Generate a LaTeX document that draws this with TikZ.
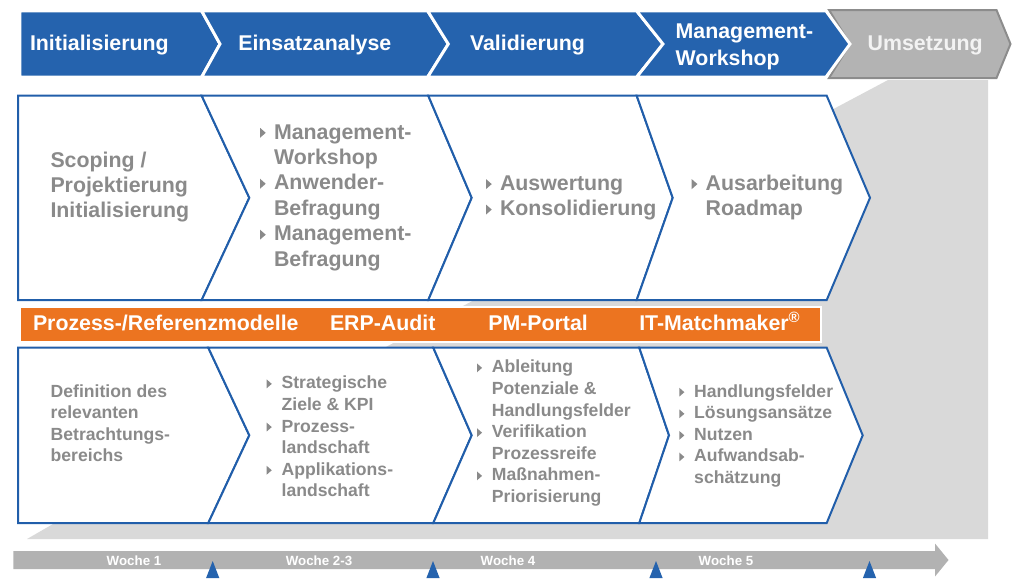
\documentclass[tikz,border=0pt]{standalone}
\usepackage{fontspec}
\setmainfont{Liberation Sans}
\definecolor{hdrblue}{RGB}{37,99,174}
\definecolor{lineblue}{RGB}{33,94,170}
\definecolor{orangebar}{RGB}{236,116,32}
\definecolor{txtgray}{RGB}{138,138,138}
\definecolor{shadowgray}{RGB}{217,217,217}
\definecolor{barGray}{RGB}{178,178,178}
\definecolor{umsGray}{RGB}{179,179,179}
\definecolor{umsBorder}{RGB}{140,140,140}
\definecolor{umsText}{RGB}{243,243,243}
\newcommand{\bulA}{\makebox[10.5pt][l]{\tikz[baseline=0pt]\fill[txtgray] (0pt,0.9pt) -- (0pt,8.4pt) -- (4.3pt,4.65pt) -- cycle;}}
\newcommand{\bulB}{\makebox[11.2pt][l]{\tikz[baseline=0pt]\fill[txtgray] (0pt,0.4pt) -- (0pt,7.0pt) -- (3.8pt,3.7pt) -- cycle;}}
\begin{document}
\begin{tikzpicture}[x=0.75pt,y=-0.75pt,
  every node/.style={inner sep=0pt, outer sep=0pt},
  hdr/.style={font=\fontsize{16}{20}\selectfont\bfseries, text=white, anchor=base west},
  body/.style={font=\fontsize{16}{19.1}\selectfont\bfseries, text=txtgray, anchor=base west},
  small/.style={font=\fontsize{13.2}{16.2}\selectfont\bfseries, text=txtgray, anchor=base west},
  orangetxt/.style={font=\fontsize{16}{19}\selectfont\bfseries, text=white, anchor=base west},
  weektxt/.style={font=\fontsize{10}{12}\selectfont\bfseries, text=white, anchor=base},
  hchev/.style={fill=hdrblue, draw=white, line width=2.2pt, line join=miter},
  bchev/.style={fill=white, draw=lineblue, line width=1.5pt, line join=miter},
  marker/.style={fill=hdrblue},
]
\useasboundingbox (0,0) rectangle (1012,578);

% shadow
\fill[shadowgray] (27,539) -- (53,524) -- (888,80) -- (988,80) -- (988,539) -- cycle;

% header chevrons
\draw[fill=umsGray, draw=umsBorder, line width=1.5pt, line join=miter]
  (829,10) -- (996.5,10) -- (1010.5,44) -- (996.5,78) -- (829,78) -- (850,44) -- cycle;
\draw[hchev] (20,11) -- (201.7,11) -- (220,44) -- (201.7,77) -- (20,77) -- cycle;
\draw[hchev] (201.7,11) -- (427.7,11) -- (448.3,44) -- (427.7,77) -- (201.7,77) -- (220,44) -- cycle;
\draw[hchev] (427.7,11) -- (636.7,11) -- (663,44) -- (636.7,77) -- (427.7,77) -- (448.3,44) -- cycle;
\draw[hchev] (636.7,11) -- (826,11) -- (850,44) -- (826,77) -- (636.7,77) -- (663,44) -- cycle;

% top row chevrons
\draw[bchev] (18,95.7) -- (201.7,95.7) -- (249.3,197.8) -- (201.7,300) -- (18,300) -- cycle;
\draw[bchev] (201.7,95.7) -- (428.3,95.7) -- (471.7,197.8) -- (428.3,300) -- (201.7,300) -- (249.3,197.8) -- cycle;
\draw[bchev] (428.3,95.7) -- (636.7,95.7) -- (672.7,197.8) -- (636.7,300) -- (428.3,300) -- (471.7,197.8) -- cycle;
\draw[bchev] (636.7,95.7) -- (826.7,95.7) -- (870,197.8) -- (826.7,300) -- (636.7,300) -- (672.7,197.8) -- cycle;

% orange bar
\draw[fill=orangebar, draw=white, line width=1.5pt] (20,306.7) rectangle (821,342.3);

% bottom row chevrons
\draw[bchev] (18,347.7) -- (208.3,347.7) -- (249.3,435.3) -- (208.3,523) -- (18,523) -- cycle;
\draw[bchev] (208.3,347.7) -- (433.3,347.7) -- (471.7,435.3) -- (433.3,523) -- (208.3,523) -- (249.3,435.3) -- cycle;
\draw[bchev] (433.3,347.7) -- (639.3,347.7) -- (669,435.3) -- (639.3,523) -- (433.3,523) -- (471.7,435.3) -- cycle;
\draw[bchev] (639.3,347.7) -- (826.7,347.7) -- (862.7,435.3) -- (826.7,523) -- (639.3,523) -- (669,435.3) -- cycle;

% week bar
\fill[barGray] (13.3,551) -- (935,551) -- (935,543.5) -- (948.5,560) -- (935,576.5) -- (935,569) -- (13.3,569) -- cycle;
\fill[marker] (212.7,561) -- (219.3,578) -- (206.1,578) -- cycle;
\fill[marker] (433,561) -- (439.6,578) -- (426.4,578) -- cycle;
\fill[marker] (656,561) -- (662.6,578) -- (649.4,578) -- cycle;
\fill[marker] (869.5,561) -- (876.1,578) -- (862.9,578) -- cycle;

% header texts
\node[hdr] (h1) at (30,50.6) {Initialisierung};
\node[hdr] (h2) at (238.3,50.6) {Einsatzanalyse};
\node[hdr] (h3) at (470,50.6) {Validierung};
\node[hdr] (h4) at (675.7,38.6) {\begin{tabular}[t]{@{}l@{}}Management-\\Workshop\end{tabular}};
\node[hdr, text=umsText] (h5) at (867.7,50.8) {Umsetzung};

% top row texts
\node[body] (t1) at (50.5,167) {\begin{tabular}[t]{@{}l@{}}Scoping /\\Projektierung\\Initialisierung\end{tabular}};
\node[body] (t2) at (260,139) {\begin{tabular}[t]{@{}l@{}l@{}}\bulA&Management-\\&Workshop\\\bulA&Anwender-\\&Befragung\\\bulA&Management-\\&Befragung\end{tabular}};
\node[body] (t3) at (486,190.3) {\begin{tabular}[t]{@{}l@{}l@{}}\bulA&Auswertung\\\bulA&Konsolidierung\end{tabular}};
\node[body] (t4) at (691.7,190.3) {\begin{tabular}[t]{@{}l@{}l@{}}\bulA&Ausarbeitung\\&Roadmap\end{tabular}};

% orange bar texts
\node[orangetxt] (o1) at (33,330.7) {Prozess-/Referenzmodelle};
\node[orangetxt] (o2) at (330,330.7) {ERP-Audit};
\node[orangetxt] (o3) at (488.3,330.7) {PM-Portal};
\node[orangetxt] (o4) at (639.3,330.7) {IT-Matchmaker\textsuperscript{®}};

% bottom row texts
\node[small] (b1) at (50.7,397.1) {\begin{tabular}[t]{@{}l@{}}Definition des\\relevanten\\Betrachtungs-\\bereichs\end{tabular}};
\node[small] (b2) at (266.7,388.8) {\begin{tabular}[t]{@{}l@{}l@{}}\bulB&Strategische\\&Ziele \& KPI\\\bulB&Prozess-\\&landschaft\\\bulB&Applikations-\\&landschaft\end{tabular}};
\node[small] (b3) at (477,372.8) {\begin{tabular}[t]{@{}l@{}l@{}}\bulB&Ableitung\\&Potenziale \&\\&Handlungsfelder\\\bulB&Verifikation\\&Prozessreife\\\bulB&Maßnahmen-\\&Priorisierung\end{tabular}};
\node[small] (b4) at (679.3,397.1) {\begin{tabular}[t]{@{}l@{}l@{}}\bulB&Handlungsfelder\\\bulB&Lösungsansätze\\\bulB&Nutzen\\\bulB&Aufwandsab-\\&schätzung\end{tabular}};

% week labels
\node[weektxt] (w1) at (134,565) {Woche 1};
\node[weektxt] (w2) at (319,565) {Woche 2-3};
\node[weektxt] (w3) at (508,565) {Woche 4};
\node[weektxt] (w4) at (726,565) {Woche 5};
\end{tikzpicture}
\end{document}
